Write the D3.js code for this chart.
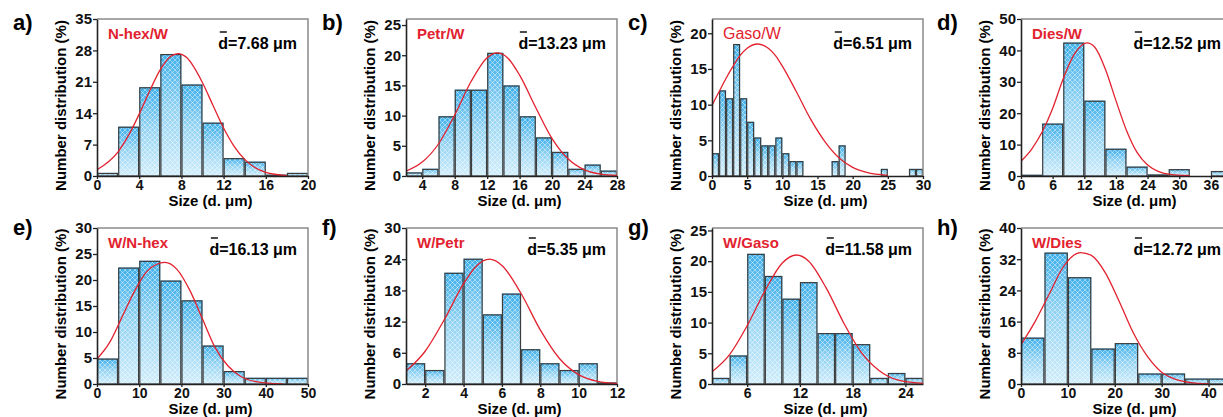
<!DOCTYPE html>
<html>
<head>
<meta charset="utf-8">
<title>Droplet size distributions</title>
<script src="https://cdn.jsdelivr.net/npm/d3@7"></script>
<style>
	body { margin: 0; background: #fff; }
	svg text { font-family: "Liberation Sans", Arial, sans-serif; font-weight: bold; }
</style>
</head>
<body>
<svg id="chart" width="1223" height="417"></svg>
<script>
	var panelLetters = ['a)', 'b)', 'c)', 'd)', 'e)', 'f)', 'g)', 'h)'];
	var sampleNames = ['N-hex/W', 'Petr/W', 'Gaso/W', 'Dies/W', 'W/N-hex', 'W/Petr', 'W/Gaso', 'W/Dies'];
	var meanSizes = ['7.68', '13.23', '6.51', '12.52', '16.13', '5.35', '11.58', '12.72'];

	var xDomains = [[0, 20], [2, 28], [0, 30], [0, 40], [0, 50], [1, 12], [2, 26], [0, 45]];
	var yDomains = [[0, 35], [0, 26], [0, 22], [0, 50], [0, 30], [0, 30], [0, 25.4], [0, 40]];
	var xTicks = [
		[0, 4, 8, 12, 16, 20], [4, 8, 12, 16, 20, 24, 28], [0, 5, 10, 15, 20, 25, 30], [0, 6, 12, 18, 24, 30, 36],
		[0, 10, 20, 30, 40, 50], [2, 4, 6, 8, 10, 12], [6, 12, 18, 24], [0, 10, 20, 30, 40]
	];
	var yTicks = [
		[0, 7, 14, 21, 28, 35], [0, 5, 10, 15, 20, 25], [0, 5, 10, 15, 20], [0, 10, 20, 30, 40, 50],
		[0, 5, 10, 15, 20, 25, 30], [0, 6, 12, 18, 24, 30], [0, 5, 10, 15, 20, 25], [0, 8, 16, 24, 32, 40]
	];

	// histogram bins: first bin start and bin width, then the % in each bin
	var binStarts = [0, 2, 0, 0, 0, 1, 2, 0];
	var binWidths = [2, 2, 1, 4, 5, 1, 2, 5];

	var countsA = [0.7, 11.0, 19.8, 27.2, 20.4, 11.9, 4.0, 3.2, 0.3, 0.7];
	var countsB = [0.6, 1.2, 9.9, 14.3, 14.3, 20.4, 15.0, 9.9, 6.4, 4.0, 1.2, 1.9, 0.9];
	var countsC = [3.2, 12.0, 10.9, 18.5, 10.9, 7.6, 5.4, 4.3, 4.3, 5.4, 3.2, 2.1, 2.1, 0, 0, 0, 0, 2.1, 4.3,
		0, 0, 0, 0, 0, 1.0, 0, 0, 0, 1.0, 1.0];
	var countsD = [0.4, 16.7, 42.5, 24.0, 8.7, 3.0, 0.5, 2.2, 0, 1.6];
	var countsE = [4.9, 22.4, 23.7, 19.9, 16.1, 7.4, 2.5, 1.2, 1.2, 1.2];
	var countsF = [4.0, 2.7, 21.4, 24.1, 13.4, 17.4, 6.7, 4.0, 2.7, 4.0, 0.3];
	var countsG = [1.0, 4.65, 21.2, 17.6, 13.9, 16.6, 8.3, 8.3, 6.5, 1.0, 1.8, 1.0];
	var countsH = [11.9, 33.7, 27.4, 9.1, 10.5, 2.7, 2.7, 1.4, 1.4];

	// red fitted curves [size, %]
	var fitA = [[0, 1.4], [2, 5.4], [3, 9.1], [4, 13.8], [5, 19.0], [6, 23.7], [7, 26.7], [7.7, 27.3], [8.5, 26.4],
		[10, 20.8], [11, 15.7], [12, 10.7], [13, 6.6], [14, 3.7], [16, 0.8], [18, 0.1]];
	var fitB = [[2, 0.8], [4, 2.3], [6, 5.3], [8, 10.1], [10, 15.6], [12, 19.6], [13.2, 20.4], [14.5, 19.6], [16, 16.7],
		[18, 11.3], [20, 6.2], [22, 2.8], [24, 1.0], [26, 0.3], [28, 0.1]];
	var fitC = [[0, 9.9], [1, 11.8], [2, 13.7], [3, 15.4], [4, 16.9], [5, 17.9], [6.5, 18.5], [8, 17.9], [9, 16.9],
		[10, 15.4], [12, 11.8], [14, 8.0], [16, 4.9], [18, 2.6], [20, 1.2], [22, 0.5], [25, 0.1]];
	var fitD = [[0, 4.7], [2, 8.5], [4, 14], [6, 21.5], [8, 31], [10, 38.5], [12.5, 42.4], [14, 41], [16, 34],
		[18, 24], [20, 14.5], [22, 7.5], [24, 3.5], [26, 1.5], [28, 0.6], [32, 0.1]];
	var fitE = [[0, 4.8], [3, 8], [6, 13], [9, 18], [12, 21.8], [16.1, 23.4], [19, 22], [22, 18], [25, 12.5],
		[28, 7], [31, 3.5], [34, 1.5], [38, 0.4], [44, 0]];
	var fitF = [[1, 2.5], [2, 6.3], [3, 12.4], [4, 19.3], [4.7, 22.8], [5.35, 24.0], [6, 22.8], [7, 17.4], [8, 10.4],
		[9, 4.9], [10, 1.8], [11, 0.5], [12, 0.1]];
	var fitG = [[2, 2.0], [4, 4.8], [6, 9.5], [8, 15.1], [10, 19.7], [11.6, 21.0], [13, 20.0], [15, 15.6], [17, 9.9],
		[19, 5.1], [21, 2.2], [23, 0.7], [26, 0.1]];
	var fitH = [[0, 10.1], [3, 16], [6, 23], [9, 30], [12.7, 33.7], [15, 33], [18, 28.5], [21, 21], [24, 13],
		[27, 7], [30, 3], [33, 1.2], [36, 0.4], [40, 0]];

	var counts = [countsA, countsB, countsC, countsD, countsE, countsF, countsG, countsH];
	var fits = [fitA, fitB, fitC, fitD, fitE, fitF, fitG, fitH];

	var colLefts = [97, 406, 712, 1021],
		rowTops = [19, 228],
		rowHeights = [157, 156],
		plotWidth = 211,
		red = '#e2222f';

	var svg = d3.select('#chart');
	var defs = svg.append('defs');

	var grad = defs.append('linearGradient')
		.attr('id', 'barFill')
		.attr('x1', 0).attr('y1', 0).attr('x2', 0).attr('y2', 1);
	grad.append('stop').attr('offset', '0%').attr('stop-color', '#3eafea');
	grad.append('stop').attr('offset', '45%').attr('stop-color', '#93d3f3');
	grad.append('stop').attr('offset', '100%').attr('stop-color', '#d0edfb');

	var hatch = defs.append('pattern')
		.attr('id', 'hatch')
		.attr('patternUnits', 'userSpaceOnUse')
		.attr('width', 5).attr('height', 5);
	hatch.append('path')
		.attr('d', 'M0,0L5,5M5,0L0,5')
		.attr('stroke', '#fff')
		.attr('stroke-opacity', 0.55)
		.attr('stroke-width', 0.8);

	function drawPanel(i) {
		var col = i % 4, row = Math.floor(i / 4);
		var left = colLefts[col], top = rowTops[row], h = rowHeights[row];
		var right = left + plotWidth, bottom = top + h;

		var x = d3.scaleLinear().domain(xDomains[i]).range([left, right]);
		var y = d3.scaleLinear().domain(yDomains[i]).range([bottom, top]);

		var g = svg.append('g').attr('class', 'panel');

		defs.append('clipPath').attr('id', 'clip' + i)
			.append('rect')
			.attr('x', left).attr('y', top - 2)
			.attr('width', plotWidth).attr('height', h + 2);

		var bars = counts[i].map(function(v, k) {
			var x0 = binStarts[i] + k * binWidths[i];
			return { x0: x0, x1: x0 + binWidths[i], v: v };
		}).filter(function(d) { return d.v > 0; });

		var barG = g.append('g');
		barG.selectAll('rect.fill')
			.data(bars)
			.enter()
			.append('rect')
			.attr('class', 'fill')
			.attr('x', function(d) { return x(d.x0); })
			.attr('y', function(d) { return y(d.v); })
			.attr('width', function(d) { return x(d.x1) - x(d.x0); })
			.attr('height', function(d) { return y(0) - y(d.v); })
			.attr('fill', 'url(#barFill)');
		barG.selectAll('rect.hatch')
			.data(bars)
			.enter()
			.append('rect')
			.attr('class', 'hatch')
			.attr('x', function(d) { return x(d.x0) + 0.6; })
			.attr('y', function(d) { return y(d.v) + 0.6; })
			.attr('width', function(d) { return x(d.x1) - x(d.x0) - 1.2; })
			.attr('height', function(d) { return Math.max(0, y(0) - y(d.v) - 0.6); })
			.attr('fill', 'url(#hatch)')
			.attr('stroke', '#3d3d3d')
			.attr('stroke-width', 1.2);

		// frame (top and right in grey)
		g.append('path')
			.attr('d', 'M' + left + ',' + top + 'H' + right + 'V' + bottom)
			.attr('fill', 'none')
			.attr('stroke', '#8a8a8a')
			.attr('stroke-width', 1.5);

		var line = d3.line()
			.x(function(d) { return x(d[0]); })
			.y(function(d) { return y(d[1]); })
			.curve(d3.curveMonotoneX);
		g.append('path')
			.datum(fits[i])
			.attr('clip-path', 'url(#clip' + i + ')')
			.attr('d', line)
			.attr('fill', 'none')
			.attr('stroke', red)
			.attr('stroke-width', 1.3);

		var xAxis = g.append('g')
			.attr('transform', 'translate(0,' + bottom + ')')
			.call(d3.axisBottom(x).tickValues(xTicks[i]).tickSize(3).tickSizeOuter(0).tickPadding(1));
		var yAxis = g.append('g')
			.attr('transform', 'translate(' + left + ',0)')
			.call(d3.axisLeft(y).tickValues(yTicks[i]).tickSize(4).tickSizeOuter(0).tickPadding(1));
		[xAxis, yAxis].forEach(function(ax, k) {
			ax.select('.domain').attr('stroke', '#222').attr('stroke-width', 1.6);
			ax.selectAll('.tick line').attr('stroke', '#222').attr('stroke-width', 1.3);
			ax.selectAll('.tick text')
				.attr('fill', '#111')
				.style('font-size', k === 0 ? '14px' : '15px')
				.style('font-weight', 'bold')
				.style('font-family', '"Liberation Sans", Arial, sans-serif');
		});

		// titles
		g.append('text')
			.attr('x', (left + right) / 2 + 8)
			.attr('y', bottom + 30)
			.attr('text-anchor', 'middle')
			.style('font-size', '15px')
			.text('Size (d. μm)');
		g.append('text')
			.attr('transform', 'translate(' + (left - 31) + ',' + ((top + bottom) / 2 + 8) + ') rotate(-90)')
			.attr('text-anchor', 'middle')
			.style('font-size', '15px')
			.text('Number distribution (%)');

		g.append('text')
			.attr('x', left - 84)
			.attr('y', row === 0 ? 30 : 235)
			.style('font-size', '22px')
			.text(panelLetters[i]);

		var name = g.append('text')
			.attr('x', left + 11)
			.attr('y', top + 20)
			.attr('fill', red)
			.style('font-size', '15px')
			.text(sampleNames[i]);
		if (i === 2) name.style('font-weight', 'normal').style('font-size', '16px');

		var base = top + (row === 0 ? 30 : 27);
		var mean = g.append('text')
			.attr('x', right - 11)
			.attr('y', base)
			.attr('text-anchor', 'end')
			.style('font-size', '16px')
			.text('d=' + meanSizes[i] + ' μm');
		var ext = mean.node().getExtentOfChar(0);
		g.append('line')
			.attr('x1', ext.x + 1.5).attr('x2', ext.x + ext.width - 1.2)
			.attr('y1', base - 17).attr('y2', base - 17)
			.attr('stroke', '#111')
			.attr('stroke-width', 1.5);
	}

	for (var i = 0; i < 8; i++) drawPanel(i);
</script>
</body>
</html>
